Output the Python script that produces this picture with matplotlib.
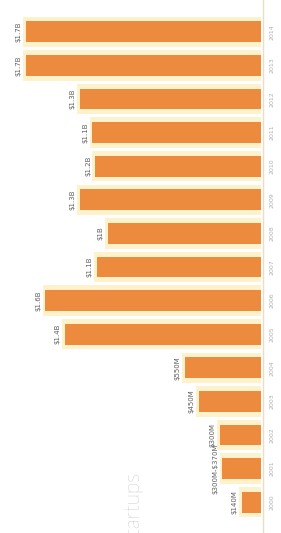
import matplotlib
matplotlib.use("Agg")
import matplotlib.pyplot as plt

years = ["2000", "2001", "2002", "2003", "2004", "2005", "2006", "2007",
         "2008", "2009", "2010", "2011", "2012", "2013", "2014"]
funding = [0.14, 0.28, 0.30, 0.45, 0.55, 1.42, 1.56, 1.19,
           1.11, 1.31, 1.20, 1.22, 1.31, 1.70, 1.70]  # $ billions
value_labels = ["$140M", "$300M-$370M", "$300M", "$450M", "$550M", "$1.4B", "$1.6B", "$1.1B",
                "$1B", "$1.3B", "$1.2B", "$1.1B", "$1.3B", "$1.7B", "$1.7B"]
title = "Funding for startups"

W, H = 281, 533
fig = plt.figure(figsize=(W / 100, H / 100), dpi=100)
fig.patch.set_facecolor("white")

# axes spans from left edge to bar baseline at x=261px
ax = fig.add_axes([0, 14 / H, 261 / W, 504 / H])
ax.set_facecolor("white")

pos = list(range(len(years)))
# pale halo behind bars, like the photo
ax.barh(pos, [v + 0.02 for v in funding], height=0.9, color="#FDF2CC", zorder=1)
ax.barh(pos, funding, height=0.62, color="#EC8A3D", zorder=2)

for p, v, lab in zip(pos, funding, value_labels):
    ax.annotate(lab.replace("$", r"\$"), (v, p), xytext=(-3, 0), textcoords="offset points",
                rotation=90, ha="right", va="center", fontsize=5, color="#606060")

ax.set_xlim(261 / 138.2, 0)
ax.set_ylim(-0.5, len(years) - 0.5)
ax.axis("off")

# baseline and year labels on the right
fig.add_artist(plt.Line2D([263 / W, 263 / W], [0, 1], color="#EADFC4", lw=1))
for p, yr in zip(pos, years):
    y_fig = (14 + (p + 0.5) * 504 / 15) / H
    fig.text(272 / W, y_fig, yr, rotation=90, ha="center", va="center",
             fontsize=4.5, color="#b0b0b0")

# title runs off the bottom edge in the photo
fig.text(134 / W, (533 - 473) / H, title, rotation=90, ha="center", va="top",
         fontsize=15, color="#9a9a9a", family="Lato", fontweight="light")

fig.savefig("out.png", dpi=100, facecolor="white")
